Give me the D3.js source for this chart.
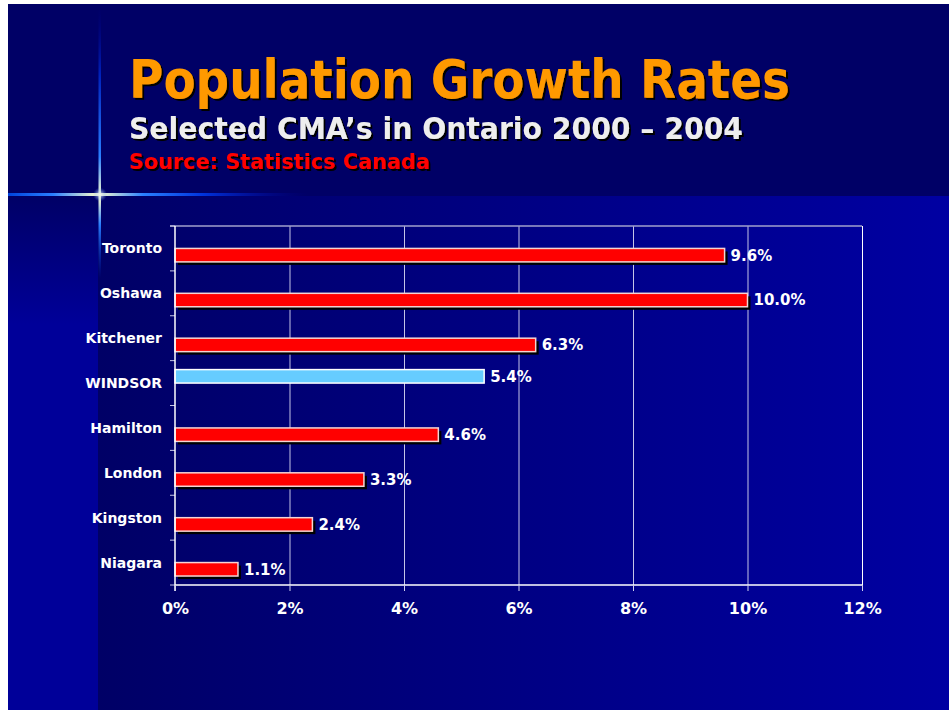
<!DOCTYPE html>
<html>
<head>
<meta charset="utf-8">
<script src="https://cdn.jsdelivr.net/npm/d3@7"></script>
<style>
  body { margin: 0; background: #fff; }
  svg text { font-family: "DejaVu Sans", Verdana, sans-serif; font-weight: bold; }
</style>
</head>
<body>
<script>
// chart data
var cities = ["Toronto", "Oshawa", "Kitchener", "WINDSOR", "Hamilton", "London", "Kingston", "Niagara"];
var growth = [9.6, 10.0, 6.3, 5.4, 4.6, 3.3, 2.4, 1.1];
var highlightCity = "WINDSOR";
var seriesNames = ["Windsor", "Other CMAs"];
var xTicks = [0, 2, 4, 6, 8, 10, 12];

var W = 949, H = 710;
var plot = {left: 175, right: 862, top: 226, bottom: 585};

var svg = d3.select("body").append("svg")
  .attr("width", W).attr("height", H);

var defs = svg.append("defs");

function grad(id, x2, y2, stops) {
  var g = defs.append("linearGradient").attr("id", id)
    .attr("x1", 0).attr("y1", 0).attr("x2", x2).attr("y2", y2);
  stops.forEach(function (s) {
    g.append("stop").attr("offset", s[0]).attr("stop-color", s[1])
      .attr("stop-opacity", s[2] == null ? 1 : s[2]);
  });
}
grad("bgMain", 1, 0, [[0, "#000066"], [1, "#0000a2"]]);
grad("bgStrip", 0, 1, [[0, "#000066"], [0.25, "#000099"], [1, "#000099"]]);
grad("flareH", 1, 0, [[0, "#0044dd"], [0.15, "#2a7fff"], [0.3, "#ffffcc"], [0.45, "#2a80ff"], [0.65, "#0033dd"], [1, "#000099", 0]]);
grad("flareV", 0, 1, [[0, "#000088", 0], [0.25, "#0022bb"], [0.55, "#2a7fff"], [0.7, "#ffffcc"], [0.8, "#2a7fff"], [1, "#0033cc", 0]]);

// drop shadow for title texts
var shadow = defs.append("filter").attr("id", "shadow")
  .attr("x", "-5%").attr("y", "-20%").attr("width", "110%").attr("height", "140%");
shadow.append("feDropShadow").attr("dx", 2).attr("dy", 2).attr("stdDeviation", 0)
  .attr("flood-color", "#000000").attr("flood-opacity", 1);

// background
svg.append("rect").attr("x", 8).attr("y", 4).attr("width", W - 8).attr("height", 192).attr("fill", "#000066");
svg.append("rect").attr("x", 8).attr("y", 196).attr("width", 90).attr("height", H - 196).attr("fill", "url(#bgStrip)");
svg.append("rect").attr("x", 98).attr("y", 196).attr("width", W - 98).attr("height", H - 196).attr("fill", "url(#bgMain)");

// lens flare
svg.append("rect").attr("x", 8).attr("y", 193).attr("width", 300).attr("height", 3).attr("fill", "url(#flareH)");
svg.append("rect").attr("x", 98.5).attr("y", 8).attr("width", 2.5).attr("height", 270).attr("fill", "url(#flareV)");
var glow = defs.append("radialGradient").attr("id", "glow");
glow.append("stop").attr("offset", 0).attr("stop-color", "#ffffee").attr("stop-opacity", 0.9);
glow.append("stop").attr("offset", 1).attr("stop-color", "#6699ff").attr("stop-opacity", 0);
svg.append("circle").attr("cx", 100).attr("cy", 194.5).attr("r", 7).attr("fill", "url(#glow)");

// titles
function title(txt, x, y, size, len, color) {
  svg.append("text").attr("x", x).attr("y", y).attr("font-size", size)
    .attr("textLength", len).attr("lengthAdjust", "spacingAndGlyphs")
    .attr("filter", "url(#shadow)")
    .attr("fill", color).text(txt);
}
title("Population Growth Rates", 129, 98, 53, 661, "#ff9900");
title("Selected CMA\u2019s in Ontario 2000 \u2013 2004", 129, 139, 30, 614, "#eeeeee");
title("Source: Statistics Canada", 129, 169, 22, 301, "#ff0000");

// scales
var x = d3.scaleLinear().domain([0, 12]).range([plot.left, plot.right]);
var y = d3.scaleBand().domain(cities).range([plot.top, plot.bottom]).padding(0);
var bw = y.bandwidth();
var ySub = d3.scaleBand().domain(seriesNames).range([0.2 * bw, 0.8 * bw]).padding(0);

var rows = cities.map(function (c, i) {
  return {city: c, value: growth[i], series: c === highlightCity ? seriesNames[0] : seriesNames[1]};
});

var g = svg.append("g");

// gridlines
g.append("g").attr("transform", "translate(0," + plot.bottom + ")")
  .call(d3.axisBottom(x).tickValues(xTicks.slice(1)).tickSize(-(plot.bottom - plot.top)).tickFormat(""))
  .call(function (s) {
    s.select(".domain").remove();
    s.selectAll(".tick line").attr("stroke", "#c4c4e6").attr("stroke-width", 1);
    s.selectAll(".tick:last-child line").attr("stroke", "#ffffff");
  });
// top frame line
g.append("line").attr("x1", plot.left - 5).attr("x2", plot.right)
  .attr("y1", plot.top).attr("y2", plot.top).attr("stroke", "#a0a0cc").attr("stroke-width", 1.5);

// bars: shadow, then fill
var bars = g.append("g").selectAll("g.bar").data(rows).enter().append("g").attr("class", "bar");
bars.filter(function (d) { return d.series !== seriesNames[0]; })
  .append("rect")
  .attr("x", x(0) + 3)
  .attr("y", function (d) { return y(d.city) + ySub(d.series) + 3; })
  .attr("width", function (d) { return x(d.value) - x(0); })
  .attr("height", ySub.bandwidth())
  .attr("fill", "#000000");
bars.append("rect")
  .attr("x", x(0))
  .attr("y", function (d) { return y(d.city) + ySub(d.series); })
  .attr("width", function (d) { return x(d.value) - x(0); })
  .attr("height", ySub.bandwidth())
  .attr("fill", function (d) { return d.series === seriesNames[0] ? "#66ccff" : "#ff0000"; })
  .attr("stroke", function (d) { return d.series === seriesNames[0] ? "#ffffff" : "#f4d4d4"; })
  .attr("stroke-width", 1.5);

// value labels
bars.append("text")
  .attr("x", function (d) { return x(d.value) + 6; })
  .attr("y", function (d) { return y(d.city) + ySub(d.series) + ySub.bandwidth() / 2; })
  .attr("dy", "0.36em")
  .attr("font-size", 15)
  .attr("fill", "#ffffff")
  .text(function (d) { return d3.format(".1f")(d.value) + "%"; });

// category axis
var yTicks = cities.map(function (c) { return y(c); }).concat([plot.bottom]);
g.append("g").selectAll("line").data(yTicks).enter().append("line")
  .attr("x1", plot.left - 5).attr("x2", plot.left)
  .attr("y1", function (d) { return d; }).attr("y2", function (d) { return d; })
  .attr("stroke", "#c4c4e6");
g.append("line").attr("x1", plot.left).attr("x2", plot.left)
  .attr("y1", plot.top).attr("y2", plot.bottom + 6).attr("stroke", "#ffffff").attr("stroke-width", 1.5);
g.append("g").selectAll("text").data(cities).enter().append("text")
  .attr("x", 162)
  .attr("y", function (c) { return y(c) + bw / 2; })
  .attr("dy", "0.36em")
  .attr("text-anchor", "end")
  .attr("font-size", 14)
  .attr("fill", "#ffffff")
  .text(function (c) { return c; });

// value axis
g.append("g").attr("transform", "translate(0," + plot.bottom + ")")
  .call(d3.axisBottom(x).tickValues(xTicks).tickSize(6).tickPadding(12).tickFormat(function (d) { return d + "%"; }))
  .call(function (s) {
    s.select(".domain").attr("stroke", "#ffffff").attr("stroke-width", 1.5).attr("d", "M" + plot.left + ",0H" + plot.right);
    s.selectAll(".tick line").attr("stroke", "#d0d0ee");
    s.selectAll(".tick text").attr("fill", "#ffffff").attr("font-size", 16)
      .attr("font-family", "'DejaVu Sans', Verdana, sans-serif").attr("font-weight", "bold");
  });
</script>
</body>
</html>
